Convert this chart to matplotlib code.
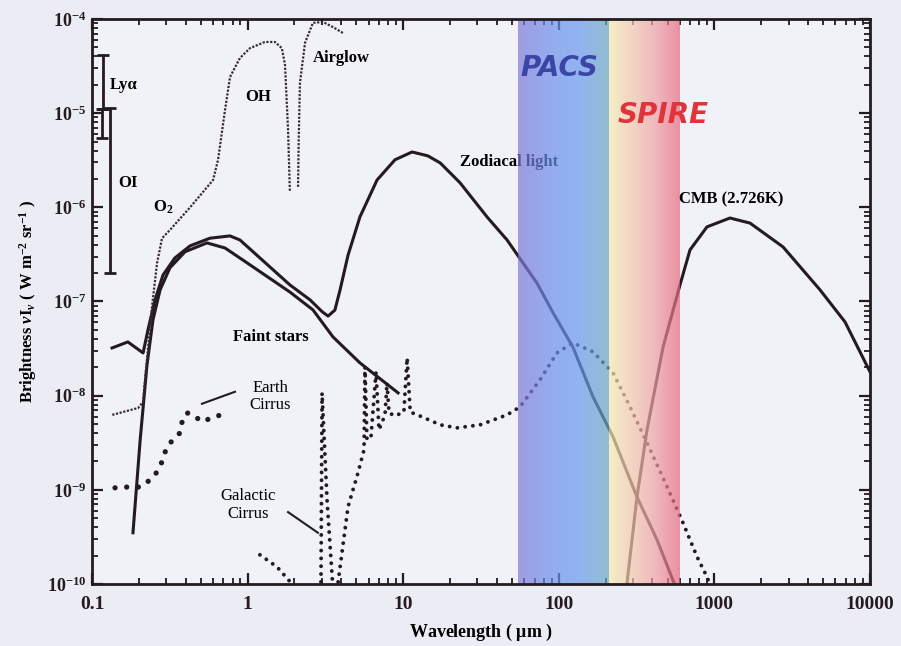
import numpy as np
import matplotlib.pyplot as plt
from matplotlib.colors import LinearSegmentedColormap
from matplotlib.ticker import FixedLocator, FixedFormatter, LogLocator, NullFormatter

plt.rcParams['font.family'] = ['Liberation Serif', 'DejaVu Serif']
plt.rcParams['font.weight'] = 'bold'
plt.rcParams['axes.labelweight'] = 'bold'
plt.rcParams['mathtext.fontset'] = 'custom'
plt.rcParams['mathtext.rm'] = 'Liberation Serif:bold'
plt.rcParams['mathtext.it'] = 'Liberation Serif:bold:italic'
plt.rcParams['mathtext.bf'] = 'Liberation Serif:bold'

# ---- data (wavelength in um, brightness nu*I_nu in W m-2 sr-1)
# O2 / OH airglow (thin dotted)
oh_wl = [0.135, 0.198, 0.213, 0.219, 0.243, 0.262, 0.282, 0.317, 0.427, 0.600,
         0.646, 0.716, 0.771, 0.893, 1.036, 1.29, 1.50, 1.66, 1.74, 1.82, 1.87]
oh_b = [6.25e-9, 7.4e-9, 8.6e-9, 1.47e-8, 8.8e-8, 2.57e-7, 4.7e-7, 5.75e-7, 1.0e-6, 1.95e-6,
        3.2e-6, 1.08e-5, 2.42e-5, 3.85e-5, 4.9e-5, 5.7e-5, 5.7e-5, 4.9e-5, 3.25e-5, 6.6e-6, 1.46e-6]
air_wl = [2.11, 2.13, 2.17, 2.34, 2.63, 3.05, 3.54, 4.10]
air_b = [1.65e-6, 5.2e-6, 2.1e-5, 5.6e-5, 9.1e-5, 9.3e-5, 8.2e-5, 7.1e-5]

# zodiacal light (scattered + thermal)
zodi_wl = [0.1346, 0.170, 0.213, 0.229, 0.254, 0.286, 0.341, 0.427, 0.573, 0.771, 0.893,
           1.20, 1.87, 2.52, 3.01, 3.29, 3.64, 3.93, 4.42, 5.27, 6.79, 8.86, 11.4, 14.4,
           17.3, 23.2, 34.6, 46.5, 72.4, 91.8, 123, 166, 223, 318, 428, 534, 553]
zodi_b = [3.21e-8, 3.72e-8, 2.84e-8, 5.0e-8, 1.04e-7, 1.91e-7, 2.9e-7, 3.9e-7, 4.7e-7, 4.97e-7, 4.5e-7,
          2.9e-7, 1.5e-7, 1.04e-7, 7.8e-8, 7.0e-8, 8.1e-8, 1.33e-7, 3.1e-7, 7.9e-7, 1.95e-6, 3.2e-6, 3.87e-6, 3.52e-6,
          2.96e-6, 1.82e-6, 7.9e-7, 4.5e-7, 1.57e-7, 7.6e-8, 3.3e-8, 9.7e-9, 3.66e-9, 8.4e-10, 2.94e-10, 1.16e-10, 1.0e-10]

# faint stars
stars_wl = [0.1834, 0.204, 0.2257, 0.2466, 0.274, 0.317, 0.396, 0.548, 0.716, 1.036, 1.87, 2.63, 3.54, 5.27, 9.27]
stars_b = [3.5e-10, 3.4e-9, 2.12e-8, 6.4e-8, 1.33e-7, 2.28e-7, 3.37e-7, 4.19e-7, 3.7e-7, 2.45e-7, 1.26e-7,
           8.15e-8, 4.2e-8, 2.23e-8, 1.07e-8]

# CMB (2.726 K)
cmb_wl = [274, 318, 369, 468, 601, 697, 896, 1259, 1694, 2760, 4770, 6906, 10000]
cmb_b = [1.0e-10, 8.4e-10, 4.34e-9, 3.3e-8, 1.5e-7, 3.53e-7, 6.2e-7, 7.7e-7, 6.8e-7, 3.8e-7, 1.33e-7, 6.07e-8, 1.79e-8]

# earth cirrus (dotted)
earth_wl = [0.1406, 0.168, 0.204, 0.2466, 0.274, 0.303, 0.3317, 0.368, 0.3846, 0.414, 0.459, 0.517, 0.600, 0.685]
earth_b = [1.05e-9, 1.07e-9, 1.07e-9, 1.34e-9, 1.75e-9, 2.86e-9, 3.4e-9, 4.03e-9, 5.96e-9, 6.57e-9,
           5.96e-9, 5.27e-9, 5.96e-9, 6.25e-9]

# galactic cirrus (dotted), three pieces
gal1_wl = [1.20, 1.545, 1.93, 2.02]
gal1_b = [2.04e-10, 1.52e-10, 1.0e-10, 8.7e-11]
gal2_wl = [2.96, 3.01, 3.24, 3.54]
gal2_b = [8.7e-11, 1.07e-8, 7.8e-10, 8.7e-11]
gal3_wl = [3.76, 4.42, 5.12, 5.60, 5.68, 5.85, 6.21, 6.69, 6.99, 7.64, 7.87, 8.11, 8.86, 10.1, 10.6, 11.1,
           13.2, 17.3, 22.2, 31.2, 46.5, 56.3, 75.7, 97.3, 123, 166, 223, 287, 369, 496, 628, 773, 896, 966]
gal3_b = [8.7e-11, 6.6e-10, 1.51e-9, 2.66e-9, 2.02e-8, 3.4e-9, 3.66e-9, 1.79e-8, 4.34e-9, 6.25e-9, 1.37e-8, 6.56e-9,
          6.1e-9, 6.7e-9, 2.52e-8, 6.7e-9, 5.96e-9, 4.9e-9, 4.55e-9, 4.9e-9, 6.25e-9, 7.6e-9, 1.47e-8, 2.84e-8,
          3.64e-8, 2.92e-8, 1.75e-8, 7.6e-9, 3.15e-9, 1.08e-9, 4.47e-10, 1.95e-10, 1.19e-10, 8.7e-11]

# UV line ranges
lya_wl = 0.118
lya_lo, lya_hi = 1.1e-5, 4.1e-5
lya2_wl = 0.116
lya2_lo, lya2_hi = 5.5e-6, 1.1e-5
oi_wl = 0.1305
oi_lo, oi_hi = 2.0e-7, 1.13e-5

# instrument bands
pacs_band = (55, 210)
spire_band = (210, 600)

xticks = [0.1, 1, 10, 100, 1000, 10000]
xticklabels = ['0.1', '1', '10', '100', '1000', '10000']
yticks = [1e-10, 1e-9, 1e-8, 1e-7, 1e-6, 1e-5, 1e-4]
yticklabels = [r'$\mathregular{10^{%d}}$' % e for e in range(-10, -3)]

ink = '#241b20'

fig = plt.figure(figsize=(9.01, 6.46), dpi=100, facecolor='#ececf4')
ax = fig.add_axes([0.1021, 0.096, 0.8635, 0.8746])
ax.set_facecolor('#f1f1f8')
ax.set_xscale('log')
ax.set_yscale('log')
ax.set_xlim(0.1, 1e4)
ax.set_ylim(1e-10, 1e-4)

# solid curves
ax.plot(zodi_wl, zodi_b, color=ink, lw=2.2, zorder=3)
ax.plot(stars_wl, stars_b, color=ink, lw=2.2, zorder=3)
ax.plot(cmb_wl, cmb_b, color=ink, lw=2.2, zorder=3)

# airglow thin dotted
ax.plot(oh_wl, oh_b, color='#3a2a36', lw=1.6, ls=(0, (1, 0.7)), zorder=3)
ax.plot(air_wl, air_b, color='#3a2a36', lw=1.6, ls=(0, (1, 0.7)), zorder=3)

# cirrus thick dots
for wl, b in [(gal1_wl, gal1_b), (gal2_wl, gal2_b), (gal3_wl, gal3_b)]:
    ax.plot(wl, b, color=ink, lw=2.8, ls=(0, (0.01, 2.0)), dash_capstyle='round', zorder=3)
ax.plot(earth_wl, earth_b, color=ink, lw=3.8, ls=(0, (0.01, 2.2)), dash_capstyle='round', zorder=3)

# UV lines as capped bars
for x, lo, hi in [(lya_wl, lya_lo, lya_hi), (lya2_wl, lya2_lo, lya2_hi), (oi_wl, oi_lo, oi_hi)]:
    mid = np.sqrt(lo * hi)
    ax.errorbar([x], [mid], yerr=[[mid - lo], [hi - mid]],
                fmt='none', ecolor=ink, elinewidth=2, capsize=4, capthick=2, zorder=3)

# leader lines for cirrus labels
ax.plot([0.509, 0.830], [8.2e-9, 1.1e-8], color=ink, lw=1.5, zorder=3)
ax.plot([1.82, 2.83], [5.8e-10, 3.5e-10], color=ink, lw=1.5, zorder=3)


def band(rng, colors):
    cmap = LinearSegmentedColormap.from_list('band', colors)
    xe = np.logspace(np.log10(rng[0]), np.log10(rng[1]), 121)
    c = np.linspace(0, 1, 120)[None, :]
    ax.pcolormesh(xe, [1e-10, 1e-4], c, cmap=cmap, shading='flat', alpha=0.7,
                  zorder=5, edgecolors='none', antialiased=False)


band(pacs_band, ['#7e77d7', '#6c8eea', '#6898ee', '#68a8c0'])
band(spire_band, ['#f4ecb0', '#f3c8ac', '#ef9ea6', '#e6687c'])

# labels
fs = 12
ax.text(0.1305, 2.0e-5, 'Lyα', fontsize=fs, va='center', ha='left', zorder=4)
ax.text(0.147, 1.82e-6, 'OI', fontsize=fs, va='center', ha='left', zorder=4)
ax.text(0.2466, 1.0e-6, r'O$_\mathregular{2}$', fontsize=fs, va='center', ha='left', zorder=4)
ax.text(1.167, 1.49e-5, 'OH', fontsize=fs, va='center', ha='center', zorder=4)
ax.text(2.63, 3.85e-5, 'Airglow', fontsize=fs, va='center', ha='left', zorder=4)
ax.text(23.2, 3.03e-6, 'Zodiacal light', fontsize=fs, va='center', ha='left', zorder=4)
ax.text(592, 1.2e-6, 'CMB (2.726K)', fontsize=fs, va='center', ha='left', zorder=6)
ax.text(0.806, 4.2e-8, 'Faint stars', fontsize=fs, va='center', ha='left', zorder=4)
ax.text(1.393, 9.7e-9, 'Earth\nCirrus', fontsize=fs, fontweight='normal', va='center', ha='center',
        linespacing=1.1, zorder=4)
ax.text(1.006, 6.9e-10, 'Galactic\nCirrus', fontsize=fs, fontweight='normal', va='center', ha='center',
        linespacing=1.1, zorder=4)
ax.text(56.3, 3.02e-5, 'PACS', fontsize=20, family='DejaVu Sans', fontweight='bold', style='italic',
        color='#3b45a6', va='center', ha='left', zorder=6)
ax.text(237, 9.6e-6, 'SPIRE', fontsize=20, family='DejaVu Sans', fontweight='bold', style='italic',
        color='#e0343c', va='center', ha='left', zorder=6)

# axes styling
ax.xaxis.set_major_locator(FixedLocator(xticks))
ax.xaxis.set_major_formatter(FixedFormatter(xticklabels))
ax.xaxis.set_minor_locator(LogLocator(base=10, subs=np.arange(2, 10), numticks=20))
ax.xaxis.set_minor_formatter(NullFormatter())
ax.yaxis.set_major_locator(FixedLocator(yticks))
ax.yaxis.set_major_formatter(FixedFormatter(yticklabels))
ax.yaxis.set_minor_locator(LogLocator(base=10, subs=np.arange(2, 10), numticks=20))
ax.yaxis.set_minor_formatter(NullFormatter())

ax.tick_params(which='both', direction='in', top=True, right=True, colors=ink)
ax.tick_params(which='major', length=8, width=1.6)
ax.tick_params(which='minor', length=4, width=1.3)
ax.tick_params(axis='x', which='major', labelsize=14, pad=9)
ax.tick_params(axis='y', which='major', labelsize=13, pad=4)
for s in ax.spines.values():
    s.set_linewidth(2)
    s.set_color(ink)
    s.set_zorder(7)

ax.set_xlabel(r'Wavelength ( $\mathregular{\mu}$m )', fontsize=13, labelpad=6)
ax.set_ylabel(r'Brightness $\nu$I$_\nu$ ( W m$^\mathregular{-2}$ sr$^\mathregular{-1}$ )', fontsize=12, labelpad=6)

fig.savefig('out.png', dpi=100, facecolor=fig.get_facecolor())
